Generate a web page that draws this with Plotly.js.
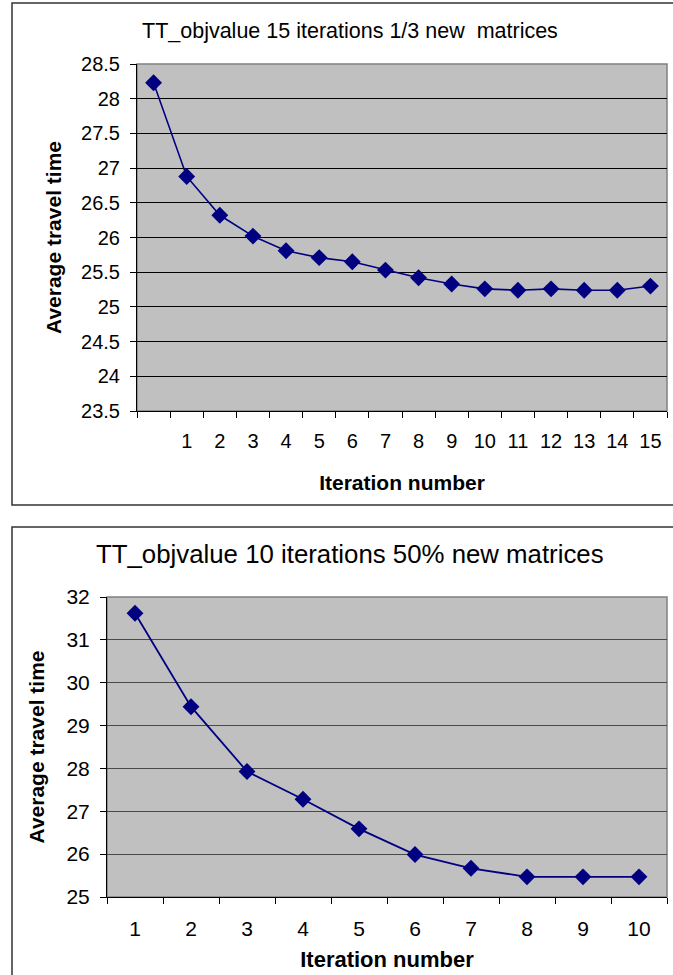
<!DOCTYPE html>
<html>
<head>
<meta charset="utf-8">
<script src="https://cdn.plot.ly/plotly-3.0.1.min.js"></script>
<style>
  html, body { margin: 0; padding: 0; background: #fff; }
  #chart { width: 673px; height: 975px; }
</style>
</head>
<body>
<div id="chart"></div>
<script>
// ---- Data ----
const topTitle = "TT_objvalue 15 iterations 1/3 new  matrices";
const topIterations = [0, 1, 2, 3, 4, 5, 6, 7, 8, 9, 10, 11, 12, 13, 14, 15];
const topTickLabels = ["", "1", "2", "3", "4", "5", "6", "7", "8", "9", "10", "11", "12", "13", "14", "15"];
const topValues = [28.23, 26.88, 26.32, 26.02, 25.81, 25.71, 25.65, 25.53, 25.42, 25.33, 25.26, 25.24, 25.26, 25.24, 25.24, 25.30];

const bottomTitle = "TT_objvalue 10 iterations 50% new matrices";
const bottomIterations = [1, 2, 3, 4, 5, 6, 7, 8, 9, 10];
const bottomTickLabels = ["1", "2", "3", "4", "5", "6", "7", "8", "9", "10"];
const bottomValues = [31.62, 29.44, 27.93, 27.28, 26.59, 25.99, 25.67, 25.47, 25.47, 25.47];

const xTitleText = "Iteration number";
const yTitleText = "Average travel time";

// ---- Styling ----
const W = 673, H = 975;
const FONT = "Liberation Sans, Arial, Helvetica, sans-serif";
const NAVY = "#000080";
const px = v => v / W;
const py = v => (H - v) / H;

const traces = [
  {
    x: topIterations, y: topValues, xaxis: "x", yaxis: "y",
    type: "scatter", mode: "lines+markers",
    line: { color: NAVY, width: 1.6 },
    marker: { symbol: "diamond", size: 13, color: NAVY },
    hoverinfo: "skip"
  },
  {
    x: bottomIterations, y: bottomValues, xaxis: "x2", yaxis: "y2",
    type: "scatter", mode: "lines+markers",
    line: { color: NAVY, width: 1.8 },
    marker: { symbol: "diamond", size: 13, color: NAVY },
    hoverinfo: "skip"
  }
];

function xAxis(domain, range, vals, labels, fontSize, titleSize, standoff, labelStandoff, anchor) {
  return {
    domain: domain, range: range, anchor: anchor,
    tickmode: "array", tickvals: vals, ticktext: labels,
    ticks: "", showgrid: false, zeroline: false,
    showline: true, linecolor: "#000", linewidth: 1,
    tickfont: { family: FONT, size: fontSize, color: "#000" },
    ticklabelstandoff: labelStandoff,
    minor: { tick0: 0.5, dtick: 1, ticks: "outside", ticklen: 6, tickcolor: "#000", tickwidth: 1, showgrid: false },
    title: { text: xTitleText, font: { family: FONT, size: titleSize, color: "#000", weight: "bold" }, standoff: standoff },
    fixedrange: true
  };
}

function yAxis(domain, range, dtick, fontSize, titleSize, standoff, gridColor, anchor) {
  return {
    domain: domain, range: range, anchor: anchor,
    tick0: range[0], dtick: dtick,
    ticks: "outside", ticklen: 6, tickcolor: "#000", tickwidth: 1,
    showgrid: true, gridcolor: gridColor, gridwidth: 1,
    zeroline: false, showline: true, linecolor: "#000", linewidth: 1,
    tickfont: { family: FONT, size: fontSize, color: "#000" },
    ticklabelstandoff: 6,
    title: { text: yTitleText, font: { family: FONT, size: titleSize, color: "#000", weight: "bold" }, standoff: standoff },
    fixedrange: true
  };
}

const layout = {
  width: W, height: H,
  margin: { l: 0, r: 0, t: 0, b: 0 },
  paper_bgcolor: "#ffffff",
  plot_bgcolor: "#C0C0C0",
  showlegend: false,
  font: { family: FONT, color: "#000" },
  xaxis: xAxis([px(137), px(667)], [-0.5, 15.5], topIterations, topTickLabels, 20, 21, 24, 12, "y"),
  yaxis: yAxis([py(411), py(64)], [23.5, 28.5], 0.5, 20, 21, 13, "#000000", "x"),
  xaxis2: xAxis([px(107), px(667)], [0.5, 10.5], bottomIterations, bottomTickLabels, 21, 22, 12, 13, "y2"),
  yaxis2: yAxis([py(897), py(597)], [25, 32], 1, 21, 21, 16, "#4a4a4a", "x2"),
  annotations: [
    { text: topTitle, xref: "paper", yref: "paper", x: px(350), y: py(31), xanchor: "center", yanchor: "middle",
      showarrow: false, font: { family: FONT, size: 21.5, color: "#000" } },
    { text: bottomTitle, xref: "paper", yref: "paper", x: px(350), y: py(554), xanchor: "center", yanchor: "middle",
      showarrow: false, font: { family: FONT, size: 25.8, color: "#000" } }
  ],
  shapes: [
    { type: "rect", xref: "paper", yref: "paper", x0: px(12), x1: 1.05, y0: py(505), y1: py(3),
      line: { color: "#333", width: 1.5 }, fillcolor: "rgba(0,0,0,0)", layer: "below" },
    { type: "rect", xref: "paper", yref: "paper", x0: px(12), x1: 1.05, y0: -0.05, y1: py(527),
      line: { color: "#333", width: 1.5 }, fillcolor: "rgba(0,0,0,0)", layer: "below" },
    { type: "rect", xref: "x domain", yref: "y domain", x0: 0, x1: 1, y0: 0, y1: 1,
      line: { color: "#808080", width: 1.5 }, fillcolor: "rgba(0,0,0,0)", layer: "below" },
    { type: "rect", xref: "x2 domain", yref: "y2 domain", x0: 0, x1: 1, y0: 0, y1: 1,
      line: { color: "#808080", width: 1.5 }, fillcolor: "rgba(0,0,0,0)", layer: "below" }
  ]
};

Plotly.newPlot("chart", traces, layout, { displayModeBar: false, staticPlot: true });
</script>
</body>
</html>
